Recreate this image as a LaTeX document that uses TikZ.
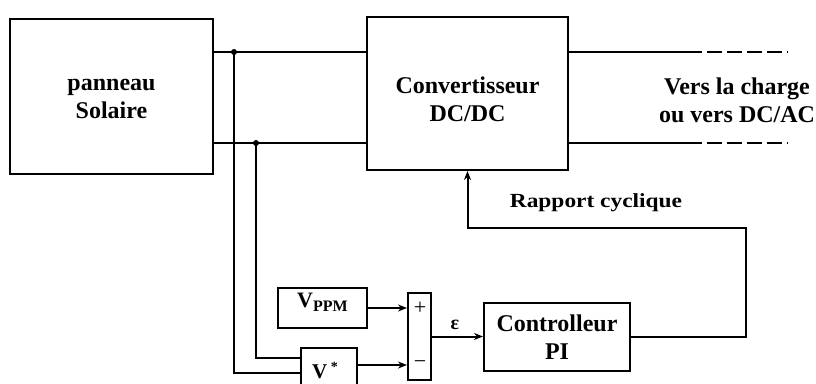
\documentclass[tikz,border=0pt]{standalone}
\usepackage{fontspec}
\setmainfont{Liberation Serif}
\usepackage{graphicx}
\usetikzlibrary{arrows.meta}
\begin{document}
\begin{tikzpicture}[x=1pt,y=-1pt,
  box/.style={draw,line width=2pt,rectangle,inner sep=0pt},
  wire/.style={line width=2pt},
  arr/.style={wire,-{Stealth[length=9pt,width=7pt]}},
  lbl/.style={font=\fontsize{24}{28}\selectfont\bfseries,align=center,inner sep=0pt},
  small/.style={font=\fontsize{22}{22}\selectfont,inner sep=0pt},
  jdot/.style={circle,fill,inner sep=0pt,minimum size=6pt}]
\useasboundingbox (0,0) rectangle (816,383);
\clip (0,0) rectangle (816,383);
% blocks
\node[box,minimum width=203pt,minimum height=155pt] (pv) at (111.5,96.5) {};
\node[lbl] (pvt) at (111.5,99) {panneau\\Solaire};
\node[box,minimum width=201pt,minimum height=153pt] (conv) at (467.5,93.5) {};
\node[lbl] (convt) at (467.5,99) {Convertisseur\\DC/DC};
\node[lbl] (vers) at (737,100) {Vers la charge\\ou vers DC/AC};
\node[box,minimum width=89pt,minimum height=40pt] (vppm) at (322.5,308) {};
\node[inner sep=0pt,font=\bfseries] (vppmt) at (322.5,302)
  {{\fontsize{22}{22}\selectfont V}{\fontsize{16}{16}\selectfont\raisebox{-4pt}{PPM}}};
\node[box,minimum width=56pt,minimum height=42pt] (vs) at (329,369) {};
\node[inner sep=0pt,font=\bfseries\fontsize{21}{21}\selectfont,anchor=base west] (vst) at (312,378.5)
  {V\,\raisebox{7pt}{\fontsize{14}{14}\selectfont *}};
\node[box,minimum width=23pt,minimum height=87pt] (sum) at (419.5,336.5) {};
\node[small] (plus) at (420,308) {+};
\node[small] (minus) at (420,365) {−};
\node[box,minimum width=146pt,minimum height=68pt] (ctrl) at (557,337) {};
\node[lbl] (ctrlt) at (557,337) {Controlleur\\PI};
\node[inner sep=0pt,font=\bfseries\fontsize{20}{20}\selectfont] (rc) at (596,203)
  {\scalebox{1.17}[1]{Rapport cyclique}};
\node[inner sep=0pt,font=\bfseries\fontsize{20}{20}\selectfont] (eps) at (455,325) {ε};
% junctions
\coordinate (j1) at (234,52);
\coordinate (j2) at (256,143);
\draw[wire] (pv.east |- j1) -- (conv.west |- j1);
\draw[wire] (pv.east |- j2) -- (conv.west |- j2);
\node[jdot] at (j1) {};
\node[jdot] at (j2) {};
% outputs
\coordinate (o1) at (687,52);
\coordinate (o1e) at (788,52);
\coordinate (o2) at (687,143);
\coordinate (o2e) at (788,143);
\draw[wire] (conv.east |- o1) -- (o1);
\draw[wire,dash pattern=on 15pt off 5pt] (o1) -- (o1e);
\draw[wire] (conv.east |- o2) -- (o2);
\draw[wire,dash pattern=on 15pt off 5pt] (o2) -- (o2e);
% measurement wires
\coordinate (c1) at (234,373);
\coordinate (c2) at (256,358);
\draw[wire] (j1) -- (c1) -- (vs.west |- c1);
\draw[wire] (j2) -- (c2) -- (vs.west |- c2);
% summing
\coordinate (c3) at (357,365);
\draw[arr] (vppm.east) -- (sum.west |- vppm.east);
\draw[arr] (vs.east |- c3) -- (sum.west |- c3);
\draw[arr] (sum.east) -- (ctrl.west |- sum.east);
% feedback
\coordinate (f1) at (746,337);
\coordinate (f2) at (746,228);
\draw[arr] (ctrl.east |- f1) -- (f1) -- (f2) -- (conv.south |- f2) -- (conv.south);
\end{tikzpicture}
\end{document}
